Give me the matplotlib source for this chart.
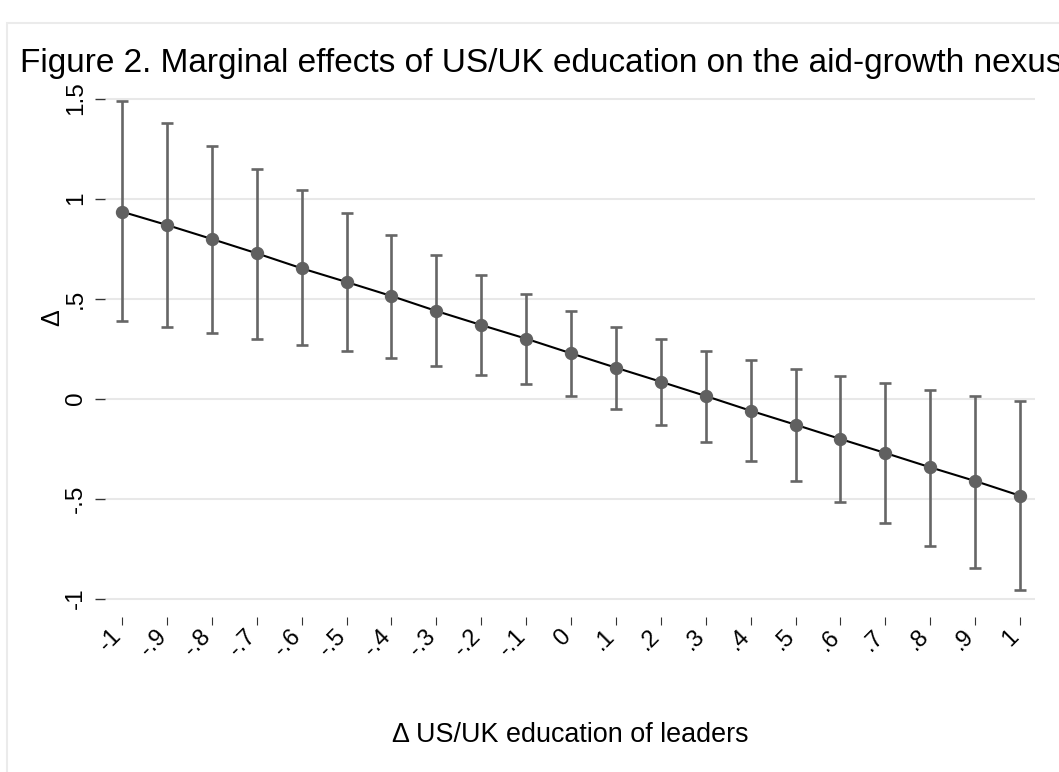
import matplotlib
matplotlib.use("Agg")
import matplotlib.pyplot as plt
from matplotlib.patches import Rectangle

plt.rcParams['font.family'] = ['Liberation Sans', 'DejaVu Sans']

# ---- data ----
x_vals = [-1.0, -0.9, -0.8, -0.7, -0.6, -0.5, -0.4, -0.3, -0.2, -0.1, 0.0,
          0.1, 0.2, 0.3, 0.4, 0.5, 0.6, 0.7, 0.8, 0.9, 1.0]
x_labels = ["-1", "-.9", "-.8", "-.7", "-.6", "-.5", "-.4", "-.3", "-.2", "-.1", "0",
            ".1", ".2", ".3", ".4", ".5", ".6", ".7", ".8", ".9", "1"]
estimate = [0.934, 0.8675, 0.7975, 0.726, 0.651, 0.5825, 0.5125, 0.4375, 0.3675, 0.299, 0.226,
            0.154, 0.084, 0.0125, -0.061, -0.131, -0.2025, -0.2725, -0.344, -0.4125, -0.486]
upper = [1.489, 1.376, 1.2625, 1.149, 1.041, 0.929, 0.82, 0.7175, 0.6175, 0.524, 0.4375,
         0.359, 0.297, 0.239, 0.191, 0.149, 0.111, 0.08, 0.0425, 0.014, -0.014]
lower = [0.3875, 0.3575, 0.329, 0.296, 0.2675, 0.2375, 0.203, 0.1625, 0.1175, 0.071, 0.0125,
         -0.0525, -0.13, -0.219, -0.311, -0.414, -0.519, -0.623, -0.736, -0.849, -0.959]
y_ticks = [-1, -0.5, 0, 0.5, 1, 1.5]
y_labels = ["-1", "-.5", "0", ".5", "1", "1.5"]

title = "Figure 2. Marginal effects of US/UK education on the aid-growth nexus"
x_title = "\u0394 US/UK education of leaders"
y_title = "\u0394"

W, H = 1059, 772
fig = plt.figure(figsize=(W / 100, H / 100), dpi=100)
fig.patch.set_facecolor('white')

# outer light frame
fig.patches.append(Rectangle((7 / W, -0.1), 1.2, 1 - 23 / H + 0.1, transform=fig.transFigure,
                             fill=False, edgecolor='#ebebeb', linewidth=1.5, zorder=0))

left, right, top, bottom = 105, 1035, 92, 617
ax = fig.add_axes([left / W, 1 - bottom / H, (right - left) / W, (bottom - top) / H])
ax.set_facecolor('none')

gray = '#666666'
yerr_lo = [e - l for e, l in zip(estimate, lower)]
yerr_hi = [u - e for e, u in zip(estimate, upper)]
ax.errorbar(x_vals, estimate, yerr=[yerr_lo, yerr_hi], fmt='none', ecolor=gray,
            elinewidth=1.9, capsize=4, capthick=1.9, zorder=2)
ax.plot(x_vals, estimate, color='black', linewidth=1.5, zorder=3)
ax.plot(x_vals, estimate, linestyle='none', marker='o', markersize=8.6,
        markerfacecolor='#606060', markeredgecolor='#606060', zorder=4)

ax.set_xlim(-1.0379, 1.0334)
ax.set_ylim(-1.0925, 1.5325)

ax.set_yticks(y_ticks)
ax.set_yticklabels(y_labels, rotation=90, va='center', fontsize=17.5)
ax.set_xticks(x_vals)
ax.set_xticklabels(x_labels, rotation=45, ha='right', va='baseline', rotation_mode='anchor', fontsize=17)

ax.yaxis.grid(True, color='#e8e8e8', linewidth=1.5, zorder=0)
ax.xaxis.grid(False)
ax.set_axisbelow(True)
for s in ax.spines.values():
    s.set_visible(False)
ax.tick_params(axis='y', direction='out', length=7.2, width=1.0, color='#333333', pad=6)
ax.tick_params(axis='x', direction='out', length=5.8, width=0.8, color='#333333', pad=9)

fig.text(20 / W, 1 - 71.7 / H, title, fontsize=24, ha='left', va='baseline')
fig.text(570 / W, 1 - 742 / H, x_title, fontsize=19.4, ha='center', va='baseline')
fig.text(52 / W, 1 - 318 / H, y_title, fontsize=18, rotation=90, ha='center', va='center')

fig.savefig('out.png', dpi=100)
